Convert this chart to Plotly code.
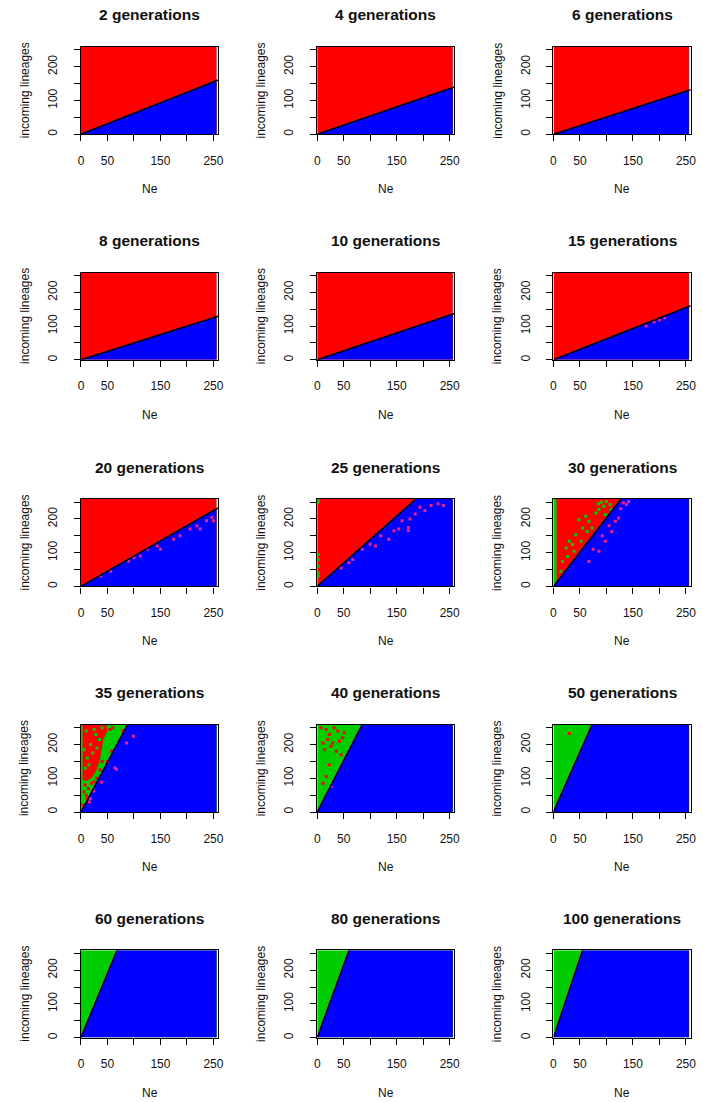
import plotly.graph_objects as go

# ---------------- data ----------------
generations = [2, 4, 6, 8, 10, 15, 20, 25, 30, 35, 40, 50, 60, 80, 100]
# slope of the black boundary line (incoming lineages = slope * Ne)
boundary_slope = [0.62, 0.54, 0.51, 0.50, 0.53, 0.62, 0.90, 1.39, 2.03,
                  2.95, 3.05, 3.55, 3.80, 4.30, 4.70]
# colour of the region above the line ("red" or "green")
upper_region = ["red"] * 9 + ["green"] * 6

# extent of the simulated grid
NE_MAX = 256
LIN_MAX = 259
AXIS_MAX = 259

# green strip on the left of the 30-generation panel: (Ne from, Ne to, lineages from)
green_strip_30 = (0, 6, 8)
# large red patch inside the green area of the 35-generation panel (Ne, lineages)
red_patch_35_ne = [3, 3, 48, 50, 42, 40, 35, 28, 20, 10]
red_patch_35_lin = [95, 259, 259, 240, 215, 190, 150, 120, 100, 92]

# isolated red cells (Ne, lineages)
red_cells = {
    15: [(175, 100), (190, 112), (200, 118), (210, 125)],
    20: [(37, 30), (56, 45), (112, 90), (125, 110), (144, 120), (150, 110),
         (162, 150), (175, 140), (187, 150), (206, 170), (219, 180), (225, 170),
         (237, 195), (247, 205), (250, 195), (90, 75), (100, 85)],
    25: [(60, 70), (85, 110), (100, 125), (110, 120), (120, 150), (135, 140),
         (145, 165), (154, 170), (160, 195), (172, 175), (172, 165), (175, 200),
         (185, 215), (194, 235), (203, 225), (215, 240), (228, 245), (238, 240),
         (67, 80), (45, 55)],
    30: [(132, 248), (138, 243), (142, 252), (110, 163), (98, 134), (86, 104),
         (67, 74), (117, 193), (123, 203), (105, 180), (92, 150), (75, 110),
         (127, 230)],
    35: [(55, 245), (60, 250), (8, 80), (14, 70), (20, 85), (10, 50), (6, 60),
         (25, 90), (16, 30), (12, 40), (30, 100), (40, 150), (36, 125), (18, 40),
         (99, 225), (86, 205), (64, 131), (67, 127), (39, 88), (80, 240),
         (58, 180), (50, 150), (24, 62), (4, 20)],
    40: [(7, 250), (17, 245), (32, 250), (39, 240), (23, 230), (11, 205),
         (20, 215), (26, 195), (29, 205), (42, 210), (48, 220), (14, 185),
         (36, 180), (23, 140), (17, 105), (11, 85), (26, 76), (45, 170),
         (51, 235)],
    50: [(30, 233)],
}
# isolated green cells (Ne, lineages)
green_cells = {
    25: [(2, 255), (2, 250), (2, 95), (2, 80), (2, 60), (2, 40), (2, 30)],
    30: [(48, 198), (61, 208), (67, 193), (80, 218), (86, 228), (95, 238),
         (98, 213), (107, 243), (55, 173), (42, 153), (30, 134), (24, 114),
         (36, 124), (17, 74), (27, 89), (14, 45), (73, 173), (64, 163),
         (110, 228), (52, 134), (39, 104), (90, 250), (100, 252), (85, 245)],
    35: [(10, 240), (25, 245), (18, 200), (30, 190), (12, 160), (35, 215),
         (22, 175), (8, 130), (15, 140), (28, 230), (6, 185), (40, 250)],
}
# isolated blue cells above the line (Ne, lineages)
blue_cells = {
    30: [(80, 149), (92, 168), (104, 188), (117, 213), (129, 233), (61, 104),
         (48, 84), (36, 54), (73, 134)],
}

x_tickvals = [0, 50, 100, 150, 200, 250]
x_ticktext = ["0", "50", "", "150", "", "250"]
y_tickvals = [0, 50, 100, 150, 200, 250]
y_ticktext = ["0", "", "100", "", "200", ""]

# ---------------- styling ----------------
RED = "#FF0000"
BLUE = "#0000FF"
GREEN = "#00CD00"
MIX = "#E8208A"
FONT = "Liberation Sans, Arial, sans-serif"

W, H = 703, 1102
col_left = [79, 318.3, 557.6]
row_top = [47, 273, 500, 726, 952]
box_w = 139
box_h = 87.5

fig = go.Figure()
annotations = []
layout_axes = {}


def px_x(p):
    return p / W


def px_y(p):
    return 1 - p / H


for i, g in enumerate(generations):
    r, c = divmod(i, 3)
    n = i + 1
    xa = "x" if n == 1 else f"x{n}"
    ya = "y" if n == 1 else f"y{n}"
    s = boundary_slope[i]
    upper_col = RED if upper_region[i] == "red" else GREEN

    # region above the line
    fig.add_trace(go.Scatter(x=[0, NE_MAX, NE_MAX, 0, 0], y=[0, 0, LIN_MAX, LIN_MAX, 0],
                             fill="toself", fillcolor=upper_col, mode="none",
                             hoverinfo="skip", showlegend=False, xaxis=xa, yaxis=ya))
    if g == 30:
        a, b, y0 = green_strip_30
        fig.add_trace(go.Scatter(x=[a, b, b, a, a], y=[y0, y0, LIN_MAX, LIN_MAX, y0],
                                 fill="toself", fillcolor=GREEN, mode="none",
                                 hoverinfo="skip", showlegend=False, xaxis=xa, yaxis=ya))
    if g == 35:
        fig.add_trace(go.Scatter(x=red_patch_35_ne + [red_patch_35_ne[0]],
                                 y=red_patch_35_lin + [red_patch_35_lin[0]],
                                 fill="toself", fillcolor=RED, mode="none",
                                 hoverinfo="skip", showlegend=False, xaxis=xa, yaxis=ya))

    # region below the line
    y_right = s * NE_MAX
    if y_right <= LIN_MAX:
        bx = [0, NE_MAX, NE_MAX, 0]
        by = [0, 0, y_right, 0]
    else:
        bx = [0, NE_MAX, NE_MAX, LIN_MAX / s, 0]
        by = [0, 0, LIN_MAX, LIN_MAX, 0]
    fig.add_trace(go.Scatter(x=bx, y=by, fill="toself", fillcolor=BLUE, mode="none",
                             hoverinfo="skip", showlegend=False, xaxis=xa, yaxis=ya))

    # isolated cells
    for cells, colr in ((green_cells, GREEN), (blue_cells, BLUE)):
        if g in cells:
            pts = cells[g]
            fig.add_trace(go.Scatter(x=[p[0] for p in pts], y=[p[1] for p in pts],
                                     mode="markers",
                                     marker=dict(symbol="square", size=3, color=colr,
                                                 line=dict(width=0)),
                                     hoverinfo="skip", showlegend=False,
                                     xaxis=xa, yaxis=ya))
    if g in red_cells:
        pts = red_cells[g]
        cols = []
        for (px_, py_) in pts:
            below = py_ < s * px_
            cols.append(MIX if below else RED)
        fig.add_trace(go.Scatter(x=[p[0] for p in pts], y=[p[1] for p in pts],
                                 mode="markers",
                                 marker=dict(symbol="square", size=3, color=cols,
                                             line=dict(width=0)),
                                 hoverinfo="skip", showlegend=False,
                                 xaxis=xa, yaxis=ya))

    # boundary line
    x_end = min(AXIS_MAX, LIN_MAX / s)
    fig.add_trace(go.Scatter(x=[0, x_end], y=[0, s * x_end], mode="lines",
                             line=dict(color="black", width=1.6),
                             hoverinfo="skip", showlegend=False, xaxis=xa, yaxis=ya))

    left = col_left[c]
    top = row_top[r]
    xdom = [px_x(left), px_x(left + box_w)]
    ydom = [px_y(top + box_h), px_y(top)]
    common = dict(showline=True, mirror=True, linecolor="black", linewidth=1.3,
                  ticks="outside", ticklen=6, tickwidth=1.1, tickcolor="black",
                  showgrid=False, zeroline=False,
                  tickfont=dict(family=FONT, size=12, color="#111"),
                  fixedrange=True)
    layout_axes["xaxis" if n == 1 else f"xaxis{n}"] = dict(
        domain=xdom, anchor=ya, range=[0, AXIS_MAX], tickmode="array",
        tickvals=x_tickvals, ticktext=x_ticktext, ticklabelstandoff=9, **common)
    layout_axes["yaxis" if n == 1 else f"yaxis{n}"] = dict(
        domain=ydom, anchor=xa, range=[0, AXIS_MAX], tickmode="array",
        tickvals=y_tickvals, ticktext=y_ticktext, tickangle=-90,
        ticklabelstandoff=12, **common)

    cx = left + box_w / 2
    annotations.append(dict(text=f"<b>{g} generations</b>", x=px_x(cx), y=px_y(top - 32),
                            xref="paper", yref="paper", showarrow=False,
                            xanchor="center", yanchor="middle",
                            font=dict(family=FONT, size=15.5, color="#111")))
    annotations.append(dict(text="Ne", x=px_x(cx), y=px_y(top + box_h + 55),
                            xref="paper", yref="paper", showarrow=False,
                            xanchor="center", yanchor="middle",
                            font=dict(family=FONT, size=12, color="#111")))
    annotations.append(dict(text="incoming lineages", x=px_x(left - 57),
                            y=px_y(top + box_h / 2), xref="paper", yref="paper",
                            showarrow=False, textangle=-90,
                            xanchor="center", yanchor="middle",
                            font=dict(family=FONT, size=12, color="#111")))

fig.update_layout(width=W, height=H, margin=dict(l=0, r=0, t=0, b=0),
                  paper_bgcolor="white", plot_bgcolor="white",
                  showlegend=False, annotations=annotations, **layout_axes)

fig.write_html("out.html", config={"displayModeBar": False})
